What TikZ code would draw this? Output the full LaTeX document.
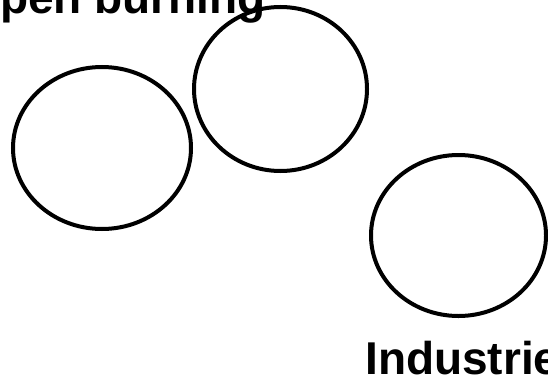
\documentclass[tikz,border=0pt]{standalone}
\usepackage{fontspec}
\setmainfont{Liberation Sans}
\usetikzlibrary{shapes.geometric}
\tikzset{
  every picture/.style={x=0.75pt, y=-0.75pt},
  ring/.style 2 args={ellipse, draw=black, line width=3pt, inner sep=0pt, minimum width=#1, minimum height=#2},
  heading/.style={font=\bfseries\fontsize{34.5}{40}\selectfont, anchor=base west, inner sep=0pt},
}

\begin{document}
\begin{tikzpicture}
  \useasboundingbox (0,0) rectangle (548,378);
  % titles, cut by the page edge
  \node[heading] (opentitle) at (-36,14) {Open burning};
  \node[heading] (indtitle) at (365,374) {Industries};
  % three circles
  \node[ring={133.5pt}{121.5pt}] (leftring) at (102,148) {};
  \node[ring={129.75pt}{123pt}] (midring) at (280.5,89) {};
  \node[ring={131.25pt}{120.75pt}] (rightring) at (458.5,235.5) {};
\end{tikzpicture}
\end{document}
